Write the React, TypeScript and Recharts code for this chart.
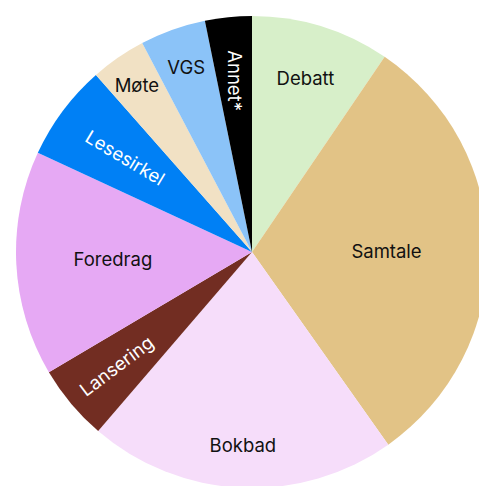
import { PieChart, Pie, Cell } from 'recharts';

const categories = ['Debatt', 'Samtale', 'Bokbad', 'Lansering', 'Foredrag', 'Lesesirkel', 'Møte', 'VGS', 'Annet*'];
const shares = [9.5, 30.7, 21.1, 5.2, 15.4, 6.6, 3.8, 4.5, 3.2];

// slice colours, in category order
const COLORS = ['#d7efc9', '#e2c386', '#f6ddfa', '#722d22', '#e6a9f4', '#0080f5', '#f1e1c4', '#8bc3f8', '#000000'];

// label distance from centre as a fraction of the radius
const LABEL_R: Record<string, number> = {
  Debatt: 0.77, Samtale: 0.57, Bokbad: 0.82, Lansering: 0.75, Foredrag: 0.59,
  Lesesirkel: 0.67, 'Møte': 0.86, VGS: 0.83, 'Annet*': 0.73,
};
// labels drawn turned (degrees), white on the dark slices
const ROTATION: Record<string, number> = { Lansering: -37, Lesesirkel: 31, 'Annet*': 90 };

const RAD = Math.PI / 180;

const data = categories.map((name, i) => ({ name, value: shares[i] }));

function renderLabel(props: any) {
  const { cx, cy, midAngle, outerRadius, index } = props;
  const name = categories[index];
  const r = outerRadius * (LABEL_R[name] ?? 0.7);
  const x = cx + r * Math.cos(-midAngle * RAD);
  const y = cy + r * Math.sin(-midAngle * RAD);
  const rot = ROTATION[name];
  const rotated = rot !== undefined;
  return (
    <text
      x={x}
      y={y}
      fill={rotated ? '#ffffff' : '#111111'}
      textAnchor="middle"
      dominantBaseline="central"
      fontFamily="Inter, sans-serif"
      fontSize={18.5}
      transform={rotated ? `rotate(${rot} ${x} ${y})` : undefined}
    >
      {name}
    </text>
  );
}

export default function App() {
  return (
    <div style={{ width: 479, height: 478 }}>
      <PieChart width={479} height={478} margin={{ top: 0, right: 0, bottom: 0, left: 0 }}>
        <Pie
          data={data}
          dataKey="value"
          nameKey="name"
          cx={244}
          cy={244}
          outerRadius={236}
          startAngle={90}
          endAngle={-270}
          stroke="none"
          label={renderLabel}
          labelLine={false}
          isAnimationActive={false}
        >
          {data.map((d, i) => (
            <Cell key={d.name} fill={COLORS[i]} />
          ))}
        </Pie>
      </PieChart>
    </div>
  );
}
